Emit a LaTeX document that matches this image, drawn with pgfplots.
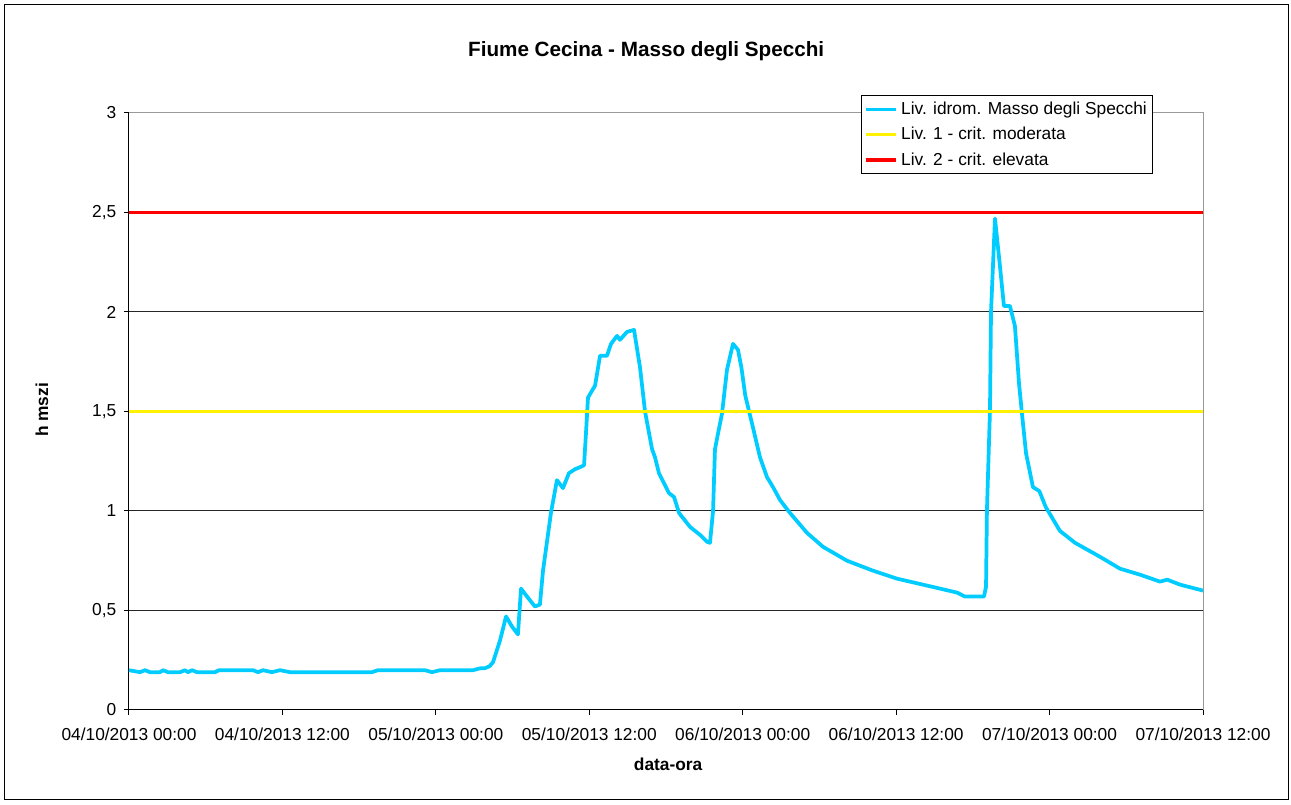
\documentclass[border=0pt]{standalone}
\usepackage{pgfplots}
\pgfplotsset{compat=1.18}
\usepackage{fontspec}
\setmainfont{Liberation Sans}
\definecolor{cyanline}{RGB}{0,204,255}
\pgfplotstableread{
h v
0 0.20
0.86 0.19
1.25 0.20
1.64 0.19
2.42 0.19
2.66 0.20
3.05 0.19
3.99 0.19
4.38 0.20
4.61 0.19
4.93 0.20
5.32 0.19
6.73 0.19
7.04 0.20
9.70 0.20
10.09 0.19
10.48 0.20
11.18 0.19
11.81 0.20
12.59 0.19
19.0 0.19
19.47 0.20
23.15 0.20
23.70 0.19
24.32 0.20
26.9 0.20
27.5 0.21
27.84 0.21
28.2 0.22
28.47 0.24
29.02 0.35
29.49 0.47
29.95 0.42
30.42 0.38
30.66 0.61
31.13 0.57
31.75 0.52
32.14 0.53
32.38 0.70
32.53 0.77
33.0 0.99
33.47 1.155
33.94 1.115
34.41 1.19
34.88 1.21
35.27 1.22
35.59 1.23
35.74 1.39
35.90 1.57
36.45 1.63
36.84 1.78
37.38 1.78
37.70 1.84
38.17 1.88
38.40 1.86
38.95 1.90
39.50 1.91
39.97 1.72
40.36 1.50
40.91 1.31
41.14 1.27
41.45 1.19
41.92 1.13
42.23 1.09
42.63 1.07
43.02 0.99
43.88 0.92
44.66 0.88
45.21 0.845
45.44 0.84
45.68 1.00
45.83 1.31
46.07 1.39
46.38 1.49
46.77 1.71
47.24 1.84
47.63 1.81
47.9 1.72
48.2 1.58
48.80 1.42
49.35 1.27
49.90 1.17
50.37 1.12
50.92 1.055
51.70 0.99
53.03 0.89
54.28 0.82
56.16 0.75
58.19 0.70
60.07 0.66
63.43 0.61
64.76 0.59
65.38 0.57
66.87 0.57
67.03 0.62
67.10 1.00
67.34 1.51
67.42 2.0
67.73 2.47
68.12 2.23
68.43 2.03
68.90 2.03
69.29 1.93
69.61 1.64
69.84 1.49
70.16 1.29
70.70 1.12
71.2 1.10
71.7 1.02
72.81 0.90
73.99 0.84
75.94 0.77
77.51 0.71
79.07 0.68
80.64 0.645
81.2 0.655
82.20 0.63
84.0 0.60
}\level
\begin{document}
\begin{tikzpicture}[x=0.75pt,y=0.75pt]
\path (0,0) rectangle (1291,805);
\draw[black, line width=0.75pt] (4,5) rectangle (1288,800);
\begin{axis}[
  at={(96.75pt,71.25pt)}, anchor=south west,
  scale only axis, width=805.5pt, height=447.75pt,
  xmin=0, xmax=84, ymin=0, ymax=3,
  axis lines=left, axis line style={-, black, line width=0.75pt},
  tick align=outside, major tick length=3.75pt,
  tick style={black, line width=0.75pt},
  xtick={0,12,...,84},
  xticklabels={04/10/2013 00:00,04/10/2013 12:00,05/10/2013 00:00,05/10/2013 12:00,06/10/2013 00:00,06/10/2013 12:00,07/10/2013 00:00,07/10/2013 12:00},
  ytick={0,0.5,1,1.5,2,2.5,3},
  yticklabels={0,{0,5},1,{1,5},2,{2,5},3},
  ymajorgrids, major grid style={black!85, line width=0.75pt},
  ticklabel style={font=\fontsize{13}{15}\selectfont},
  xticklabel style={yshift=-6pt},
  yticklabel style={xshift=-2.25pt},
  /pgf/number format/assume math mode=true,
  title={\bfseries Fiume Cecina - Masso degli Specchi},
  title style={font=\fontsize{15.5}{18}\selectfont, anchor=base, yshift=-6pt, at={(axis description cs:0.4815,1.0938)}},
  xlabel={\bfseries data-ora},
  xlabel style={font=\fontsize{13}{15}\selectfont, anchor=base, at={(axis description cs:0.502,-0.102)}},
  ylabel={\bfseries h mszi},
  ylabel style={font=\fontsize{13}{15}\selectfont, anchor=center, at={(axis description cs:-0.081,0.5025)}},
  legend style={at={(axis description cs:0.6816,1.030)}, anchor=north west, draw=black, line width=0.75pt,
    font=\fontsize{13}{15}\selectfont, inner xsep=2pt, inner ysep=2.5pt, row sep=3.2pt,
    nodes={inner sep=2.4pt, line width=0.4pt}},
  legend cell align=left,
  legend image code/.code={\draw[#1] (0pt,0pt) -- (22.5pt,0pt);},
  clip=false,
]
\addplot[cyanline, line width=2.8pt, line join=round] table[x=h,y=v]{\level};
\addlegendentry{Liv. idrom. Masso degli Specchi}
\addplot[yellow, line width=2.7pt] coordinates {(0,1.5) (84,1.5)};
\addlegendentry{Liv. 1 - crit. moderata}
\addplot[red, line width=2.7pt] coordinates {(0,2.5) (84,2.5)};
\addlegendentry{Liv. 2 - crit. elevata}
\draw[black!40, line width=0.75pt] (rel axis cs:0,1) -- (rel axis cs:1,1) -- (rel axis cs:1,0);
\end{axis}
\end{tikzpicture}
\end{document}
